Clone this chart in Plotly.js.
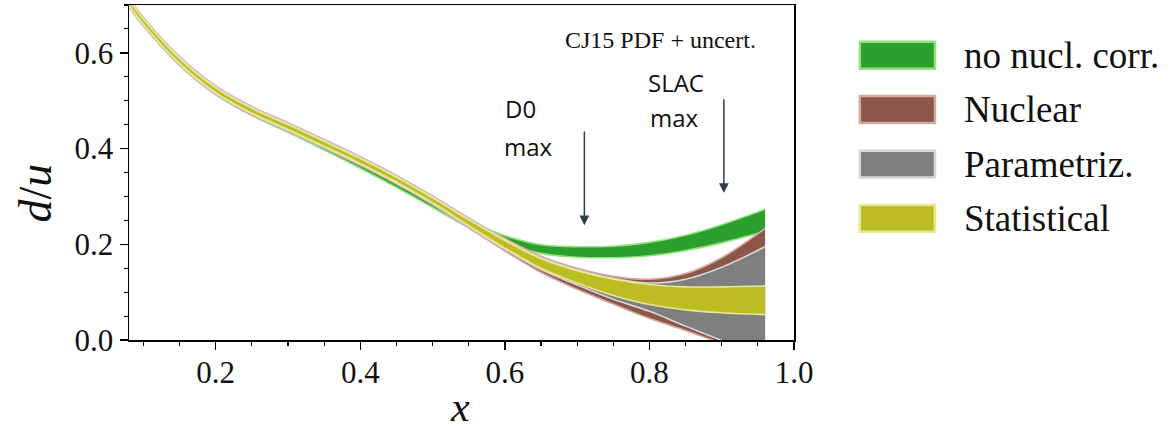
<!DOCTYPE html>
<html>
<head>
<meta charset="utf-8">
<script src="https://cdn.plot.ly/plotly-3.0.1.min.js"></script>
<style>
  html, body { margin: 0; padding: 0; background: #ffffff; }
  #chart { width: 1172px; height: 433px; }
</style>
</head>
<body>
<div id="chart"></div>
<script>
// CJ15 d/u ratio with its uncertainty bands, sampled in x
const xs = [0.08, 0.10, 0.15, 0.20, 0.25, 0.30, 0.35, 0.40, 0.45, 0.50,
            0.55, 0.60, 0.65, 0.70, 0.75, 0.80, 0.85, 0.90, 0.96];

// fit without nuclear corrections
const noNuclLo = [0.698, 0.657, 0.574, 0.513, 0.469, 0.434, 0.397, 0.359, 0.319, 0.277,
                  0.235, 0.202, 0.181, 0.173, 0.172, 0.176, 0.187, 0.203, 0.227];
const noNuclHi = [0.708, 0.667, 0.584, 0.523, 0.479, 0.444, 0.407, 0.371, 0.331, 0.289,
                  0.249, 0.218, 0.199, 0.195, 0.196, 0.204, 0.219, 0.241, 0.273];

// nuclear-model uncertainty (outermost band)
const nuclLo = [0.696, 0.656, 0.574, 0.513, 0.470, 0.436, 0.401, 0.365, 0.326, 0.283,
                0.234, 0.186, 0.141, 0.106, 0.075, 0.045, 0.020, -0.008, -0.047];
const nuclHi = [0.714, 0.674, 0.592, 0.531, 0.488, 0.454, 0.419, 0.383, 0.344, 0.301,
                0.255, 0.212, 0.175, 0.150, 0.133, 0.127, 0.139, 0.172, 0.233];

// parametrization uncertainty
const paramLo = [0.698, 0.658, 0.576, 0.515, 0.472, 0.438, 0.403, 0.367, 0.328, 0.285,
                 0.237, 0.190, 0.147, 0.115, 0.085, 0.060, 0.029, -0.001, -0.037];
const paramHi = [0.712, 0.672, 0.590, 0.529, 0.486, 0.452, 0.417, 0.381, 0.342, 0.299,
                 0.253, 0.210, 0.172, 0.147, 0.129, 0.119, 0.127, 0.152, 0.195];

// statistical uncertainty (innermost band)
const statLo = [0.700, 0.660, 0.578, 0.517, 0.474, 0.440, 0.405, 0.369, 0.330, 0.287,
                0.239, 0.192, 0.150, 0.119, 0.093, 0.074, 0.063, 0.057, 0.053];
const statHi = [0.710, 0.670, 0.588, 0.527, 0.484, 0.450, 0.415, 0.379, 0.340, 0.297,
                0.251, 0.208, 0.170, 0.145, 0.127, 0.116, 0.111, 0.111, 0.113];

const bandNames = ['no nucl. corr.', 'Nuclear', 'Parametriz.', 'Statistical'];
const bandFill  = ['#2ca02c', '#8c564b', '#7f7f7f', '#bcbd22'];
const bandEdge  = ['#92e07f', '#d2aaa2', '#d6d6d6', '#e8e894'];

const xTickVals = [0.2, 0.4, 0.6, 0.8, 1.0];
const yTickVals = [0.0, 0.2, 0.4, 0.6];

const bands = [
  [noNuclLo, noNuclHi],
  [nuclLo, nuclHi],
  [paramLo, paramHi],
  [statLo, statHi]
];

const traces = [];
bands.forEach(([lo, hi], i) => {
  traces.push({
    x: xs, y: lo, type: 'scatter', mode: 'lines', showlegend: false,
    hoverinfo: 'skip',
    line: { color: bandEdge[i], width: 1.6, shape: 'spline', smoothing: 1 }
  });
  traces.push({
    x: xs, y: hi, type: 'scatter', mode: 'lines', name: bandNames[i],
    showlegend: false, fill: 'tonexty', fillcolor: bandFill[i],
    line: { color: bandEdge[i], width: 1.6, shape: 'spline', smoothing: 1 }
  });
});

const serif = 'Liberation Serif, DejaVu Serif, serif';
const sans = 'Open Sans, Noto Sans, sans-serif';
const ink = '#111111';
const arrowColor = '#2f3e4b';

// legend drawn at the right of the axes
const shapes = [];
const annotations = [];
const legTop = [0.890, 0.728, 0.565, 0.403];
const legH = 0.080;
bandNames.forEach((name, i) => {
  shapes.push({
    type: 'rect', xref: 'paper', yref: 'paper',
    x0: 1.099, x1: 1.212, y0: legTop[i] - legH, y1: legTop[i],
    fillcolor: bandFill[i], line: { color: bandEdge[i], width: 2.5 }
  });
  annotations.push({
    xref: 'paper', yref: 'paper', x: 1.252, y: legTop[i] - legH / 2,
    xanchor: 'left', yanchor: 'middle', showarrow: false, text: name,
    font: { family: serif, size: 37, color: ink }
  });
});

annotations.push(
  // axis labels
  { xref: 'paper', yref: 'paper', x: -0.141, y: 0.438, xanchor: 'center', yanchor: 'middle',
    textangle: -90, showarrow: false, text: '<i>d</i>/<i>u</i>',
    font: { family: serif, size: 46, color: ink } },
  { xref: 'paper', yref: 'paper', x: 0.497, y: -0.274, xanchor: 'center', yanchor: 'bottom',
    showarrow: false, text: '<i>x</i>',
    font: { family: serif, size: 42, color: ink } },
  { xref: 'paper', yref: 'paper', x: 0.7985, y: 0.8955, xanchor: 'center', yanchor: 'middle',
    showarrow: false, text: 'CJ15 PDF + uncert.', font: { family: serif, size: 24, color: ink } },
  { xref: 'paper', yref: 'paper', x: 0.563, y: 0.6925, xanchor: 'left', yanchor: 'middle',
    showarrow: false, text: 'D0', font: { family: sans, size: 24, color: ink } },
  { xref: 'paper', yref: 'paper', x: 0.561, y: 0.579, xanchor: 'left', yanchor: 'middle',
    showarrow: false, text: 'max', font: { family: sans, size: 24, color: ink } },
  { xref: 'paper', yref: 'paper', x: 0.777, y: 0.770, xanchor: 'left', yanchor: 'middle',
    showarrow: false, text: 'SLAC', font: { family: sans, size: 24, color: ink } },
  { xref: 'paper', yref: 'paper', x: 0.780, y: 0.663, xanchor: 'left', yanchor: 'middle',
    showarrow: false, text: 'max', font: { family: sans, size: 24, color: ink } },
  // arrows marking the kinematic reach of each data set
  { xref: 'x', yref: 'y', axref: 'x', ayref: 'y', x: 0.71, y: 0.240, ax: 0.71, ay: 0.439,
    text: '', showarrow: true, arrowhead: 2, arrowsize: 1.3, arrowwidth: 1.5, arrowcolor: arrowColor },
  { xref: 'x', yref: 'y', axref: 'x', ayref: 'y', x: 0.903, y: 0.307, ax: 0.903, ay: 0.506,
    text: '', showarrow: true, arrowhead: 2, arrowsize: 1.3, arrowwidth: 1.5, arrowcolor: arrowColor }
);

const axisCommon = {
  showgrid: false, zeroline: false, showline: true, mirror: true,
  linecolor: '#000000', linewidth: 1.5,
  ticks: 'outside', ticklen: 8, tickwidth: 1.3, tickcolor: '#000000',
  tickfont: { family: serif, size: 31, color: ink },
  tickformat: '.1f',
  minor: { dtick: 0.05, tick0: 0, ticks: 'outside', ticklen: 4, tickwidth: 1.1,
           tickcolor: '#000000', showgrid: false }
};

const layout = {
  width: 1172, height: 433,
  margin: { l: 129, r: 378, t: 5, b: 93 },
  paper_bgcolor: '#ffffff', plot_bgcolor: '#ffffff',
  showlegend: false,
  xaxis: Object.assign({}, axisCommon, {
    range: [0.08, 1.0], tickmode: 'array', tickvals: xTickVals,
    ticklabelstandoff: -4
  }),
  yaxis: Object.assign({}, axisCommon, {
    range: [0, 0.7], tickmode: 'array', tickvals: yTickVals
  }),
  shapes: shapes,
  annotations: annotations
};

Plotly.newPlot('chart', traces, layout, { displayModeBar: false, staticPlot: true });
</script>
</body>
</html>
